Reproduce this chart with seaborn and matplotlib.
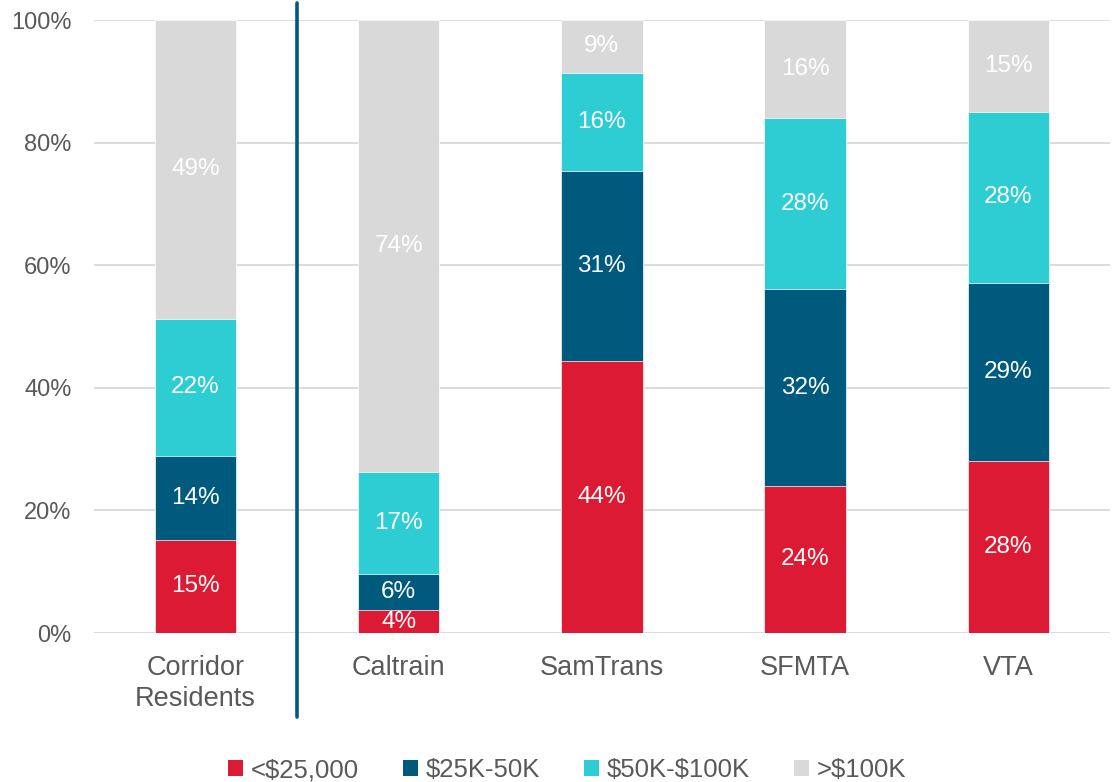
import pandas as pd
import matplotlib.pyplot as plt
import seaborn as sns
from matplotlib.lines import Line2D
from matplotlib.patches import Patch

sns.set_theme(style="white")
plt.rcParams['font.family'] = ['Liberation Sans', 'DejaVu Sans']
plt.rcParams['text.parse_math'] = False

# Dados (percentuais por faixa de renda)
grupos = ['Corridor\nResidents', 'Caltrain', 'SamTrans', 'SFMTA', 'VTA']
faixas = ['<$25,000', '$25K-50K', '$50K-$100K', '>$100K']
ate_25k = [15.2, 3.75, 44.4, 24.0, 28.1]
de_25k_50k = [13.7, 5.9, 31.0, 32.1, 29.0]
de_50k_100k = [22.4, 16.7, 16.0, 27.9, 27.9]
acima_100k = [48.7, 73.65, 8.6, 16.0, 15.0]
cores = ['#DC1A33', '#005A7D', '#2ECCD3', '#D9D9D9']

series = [ate_25k, de_25k_50k, de_50k_100k, acima_100k]
df = pd.DataFrame({f: v for f, v in zip(faixas, series)}, index=grupos)
df_acum = df.cumsum(axis=1)

fig = plt.figure(figsize=(11.12, 7.82), dpi=100)
ax = fig.add_axes([0.0845, 0.1905, 0.9135, 0.7839])

# grade horizontal
for y in [0, 20, 40, 60, 80, 100]:
    ax.axhline(y, color='#D9D9D9', lw=1.3, zorder=0)

# barras empilhadas: desenha do topo acumulado para baixo
for faixa, cor in reversed(list(zip(faixas, cores))):
    sns.barplot(x=df_acum.index, y=df_acum[faixa].values, color=cor, width=0.4,
                errorbar=None, ax=ax, saturation=1, edgecolor='white',
                linewidth=0.5, zorder=2)

# rótulos dos segmentos
for i, g in enumerate(grupos):
    base = 0
    for faixa in faixas:
        v = df.loc[g, faixa]
        ax.text(i, base + v / 2, f"{round(v):d}%", ha='center', va='center',
                color='white', fontsize=17.5, zorder=3)
        base += v

ax.set_ylim(0, 100)
ax.set_xlim(-0.5, 4.5)
ax.set_yticks([0, 20, 40, 60, 80, 100])
ax.set_yticklabels([f"{t}%" for t in [0, 20, 40, 60, 80, 100]])
ax.tick_params(axis='y', length=0, pad=16, labelsize=17, labelcolor='#595959')
ax.tick_params(axis='x', length=0, pad=16, labelsize=19.5, labelcolor='#595959')
for lbl in ax.get_xticklabels():
    lbl.set_linespacing(1.22)
ax.set_xlabel('')
ax.set_ylabel('')
for s in ax.spines.values():
    s.set_visible(False)

# linha separadora entre residentes e operadores
ax.add_line(Line2D([0.5, 0.5], [-13.7, 102.8], color='#005A7D', lw=2.6,
                   clip_on=False, zorder=4))

handles = [Patch(facecolor=c, edgecolor='none') for c in cores]
fig.legend(handles, faixas, loc='lower center', bbox_to_anchor=(0.51, -0.03),
           ncol=4, frameon=False, fontsize=18.5, handlelength=0.6, handleheight=0.6,
           handletextpad=0.3, columnspacing=1.7, labelcolor='#595959')

fig.savefig('out.png', dpi=100)
